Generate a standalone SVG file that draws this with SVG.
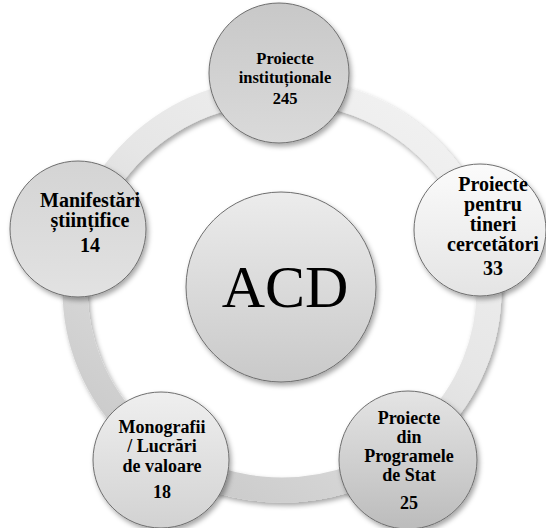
<svg xmlns="http://www.w3.org/2000/svg" width="546" height="528" viewBox="0 0 546 528">
<defs>
<style>
.t{font-family:"Liberation Serif","Times New Roman",serif;font-weight:bold;fill:#000;text-anchor:middle}
.c{stroke:#6e6e6e;stroke-width:1;filter:url(#sh)}
</style>
<filter id="sh" x="-20%" y="-20%" width="150%" height="150%">
<feDropShadow dx="2" dy="3" stdDeviation="2.5" flood-color="#000" flood-opacity="0.35"/>
</filter>
<linearGradient id="ring" x1="1" y1="0" x2="0.3" y2="1">
<stop offset="0" stop-color="#f4f4f4"/>
<stop offset="0.5" stop-color="#e6e6e6"/>
<stop offset="1" stop-color="#cbcbcb"/>
</linearGradient>
<linearGradient id="gTop" x1="0" y1="0" x2="0" y2="1">
<stop offset="0" stop-color="#c8c8c8"/><stop offset="1" stop-color="#dadada"/>
</linearGradient>
<linearGradient id="gRight" x1="0" y1="0" x2="0" y2="1">
<stop offset="0" stop-color="#fbfbfb"/><stop offset="1" stop-color="#e4e4e4"/>
</linearGradient>
<linearGradient id="gBR" x1="0" y1="0" x2="0" y2="1">
<stop offset="0" stop-color="#e4e4e4"/><stop offset="1" stop-color="#bcbcbc"/>
</linearGradient>
<linearGradient id="gBL" x1="0" y1="0" x2="0" y2="1">
<stop offset="0" stop-color="#efefef"/><stop offset="1" stop-color="#d2d2d2"/>
</linearGradient>
<linearGradient id="gLeft" x1="0" y1="0" x2="0" y2="1">
<stop offset="0" stop-color="#d4d4d4"/><stop offset="1" stop-color="#e2e2e2"/>
</linearGradient>
<linearGradient id="gCenter" x1="0" y1="0" x2="0" y2="1">
<stop offset="0" stop-color="#ececec"/><stop offset="1" stop-color="#c9c9c9"/>
</linearGradient>
</defs>
<rect width="546" height="528" fill="#fff"/>
<g id="connectors">
<ellipse cx="282" cy="290" rx="207" ry="200" fill="none" stroke="url(#ring)" stroke-width="25" filter="url(#sh)"/>
</g>
<g id="center">
<circle class="c" cx="281" cy="287" r="95" fill="url(#gCenter)"/>
<text x="285" y="307" style="font-family:'Liberation Serif','Times New Roman',serif;font-size:60px;text-anchor:middle;fill:#000">ACD</text>
</g>
<g id="n-top">
<circle class="c" cx="279" cy="73" r="70" fill="url(#gTop)"/>
<text class="t" font-size="16.5"><tspan x="285" y="64">Proiecte</tspan><tspan x="285" y="83">instituționale</tspan><tspan x="285" y="104">245</tspan></text>
</g>
<g id="n-right">
<circle class="c" cx="480" cy="230" r="66" fill="url(#gRight)"/>
<text class="t" font-size="20"><tspan x="493" y="191">Proiecte</tspan><tspan x="493" y="211">pentru</tspan><tspan x="493" y="231">tineri</tspan><tspan x="493" y="251">cercetători</tspan><tspan x="493" y="275">33</tspan></text>
</g>
<g id="n-bottom-right">
<circle class="c" cx="408" cy="460" r="69" fill="url(#gBR)"/>
<text class="t" font-size="18"><tspan x="409" y="424">Proiecte</tspan><tspan x="409" y="443">din</tspan><tspan x="409" y="462">Programele</tspan><tspan x="409" y="481">de Stat</tspan><tspan x="409" y="509">25</tspan></text>
</g>
<g id="n-bottom-left">
<circle class="c" cx="161" cy="460" r="68" fill="url(#gBL)"/>
<text class="t" font-size="18"><tspan x="162" y="433">Monografii</tspan><tspan x="162" y="452">/ Lucrări</tspan><tspan x="162" y="472">de valoare</tspan><tspan x="162" y="498">18</tspan></text>
</g>
<g id="n-left">
<circle class="c" cx="78" cy="229" r="68" fill="url(#gLeft)"/>
<text class="t" font-size="20"><tspan x="90" y="207">Manifestări</tspan><tspan x="90" y="227">științifice</tspan><tspan x="90" y="252">14</tspan></text>
</g>
</svg>
